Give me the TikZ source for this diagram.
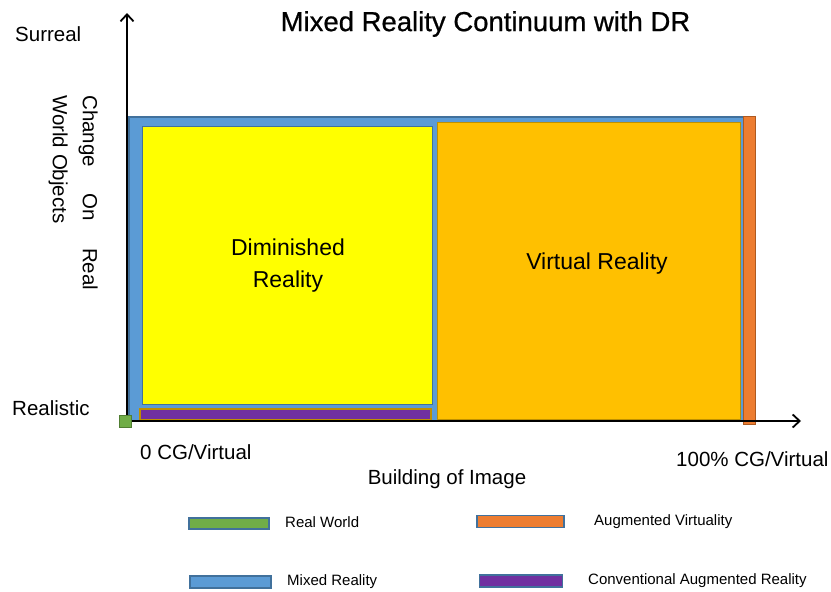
\documentclass[tikz,border=0pt]{standalone}
\usepackage{fontspec}
\setmainfont{Liberation Sans}
\newfontfamily\titlefont[FakeBold=0.7]{Liberation Sans}
\usetikzlibrary{arrows.meta}
\definecolor{mrblue}{HTML}{5B9BD5}
\definecolor{mrborder}{HTML}{41719C}
\definecolor{dryellow}{HTML}{FFFF00}
\definecolor{vrgold}{HTML}{FFC000}
\definecolor{gborder}{HTML}{BF9000}
\definecolor{avorange}{HTML}{ED7D31}
\definecolor{avborder}{HTML}{AE5A21}
\definecolor{rwgreen}{HTML}{70AD47}
\definecolor{rwborder}{HTML}{507E32}
\definecolor{arpurple}{HTML}{7030A0}
\tikzset{
  region/.style={draw, rectangle, inner sep=0pt, anchor=north west, line width=1.5pt},
  axis/.style={line width=2pt, -{Straight Barb[length=7pt,width=13pt,line width=1.8pt]}},
  lbl/.style={font=\fontsize{20.5}{24}\selectfont, inner sep=0pt},
  legbar/.style={draw=mrborder, rectangle, inner sep=0pt, anchor=north west, line width=1.8pt},
  legtxt/.style={font=\fontsize{15}{18}\selectfont, anchor=west, inner sep=0pt},
  big/.style={font=\fontsize{23}{32}\selectfont, align=center, inner sep=0pt}
}
\begin{document}
\begin{tikzpicture}[x=1pt,y=-1pt]
\useasboundingbox (0,0) rectangle (831,592);
% regions
\node[region, fill=mrblue, draw=mrborder, minimum width=617pt, minimum height=304pt] (mr) at (128,116) {};
\node[region, fill=dryellow, draw=mrborder, minimum width=290pt, minimum height=278pt] (dr) at (141.5,125.5) {};
\node[region, fill=arpurple, draw=gborder, minimum width=291pt, minimum height=11pt] (car) at (139,408) {};
\node[region, fill=vrgold, draw=gborder, minimum width=303pt, minimum height=297pt] (vr) at (436.5,121.5) {};
\node[region, fill=avorange, draw=avborder, line width=1pt, minimum width=12pt, minimum height=308pt] (av) at (742.5,115.5) {};
% axes
\coordinate (o) at (127,421);
\coordinate (ytop) at (127,13);
\coordinate (xend) at (801,421);
\draw[axis] (o) -- (ytop);
\draw[axis] (o) -- (xend);
\node[region, fill=rwgreen, draw=rwborder, line width=1pt, minimum width=12pt, minimum height=12pt] (rw) at (118.5,414.5) {};
% texts
\node[font=\titlefont\fontsize{27.5}{32}\selectfont, inner sep=0pt] (title) at (485.5,24) {Mixed Reality Continuum with DR};
\node[lbl, anchor=west] (surreal) at (15,34) {Surreal};
\node[lbl, anchor=west] (realistic) at (12,408) {Realistic};
\node[lbl, rotate=-90, align=left, anchor=north west, font=\fontsize{20.5}{30}\selectfont] (ylab) at (98,95) {\makebox[195pt][s]{Change\hfill On\hfill Real}\\World Objects};
\node[big] (drt) at (288,266) {Diminished\\Reality};
\node[big] (vrt) at (597,264) {Virtual Reality};
\node[lbl, anchor=west] (zero) at (140,452) {0 CG/Virtual};
\node[lbl, anchor=west] (hundred) at (676,459) {100\% CG/Virtual};
\node[lbl] (build) at (447,479) {Building of Image};
% legend
\node[legbar, fill=rwgreen, minimum width=80pt, minimum height=11pt] (l1) at (188,517) {};
\node[legtxt] (t1) at (285,522.5) {Real World};
\node[legbar, fill=avorange, minimum width=87pt, minimum height=12pt] (l2) at (476,514.5) {};
\node[legtxt] (t2) at (594,521.5) {Augmented Virtuality};
\node[legbar, fill=mrblue, minimum width=81pt, minimum height=12pt] (l3) at (189,575) {};
\node[legtxt] (t3) at (287,581.5) {Mixed Reality};
\node[legbar, fill=arpurple, minimum width=83pt, minimum height=12pt] (l4) at (478.5,574) {};
\node[legtxt] (t4) at (588,580.5) {Conventional Augmented Reality};
\end{tikzpicture}
\end{document}
